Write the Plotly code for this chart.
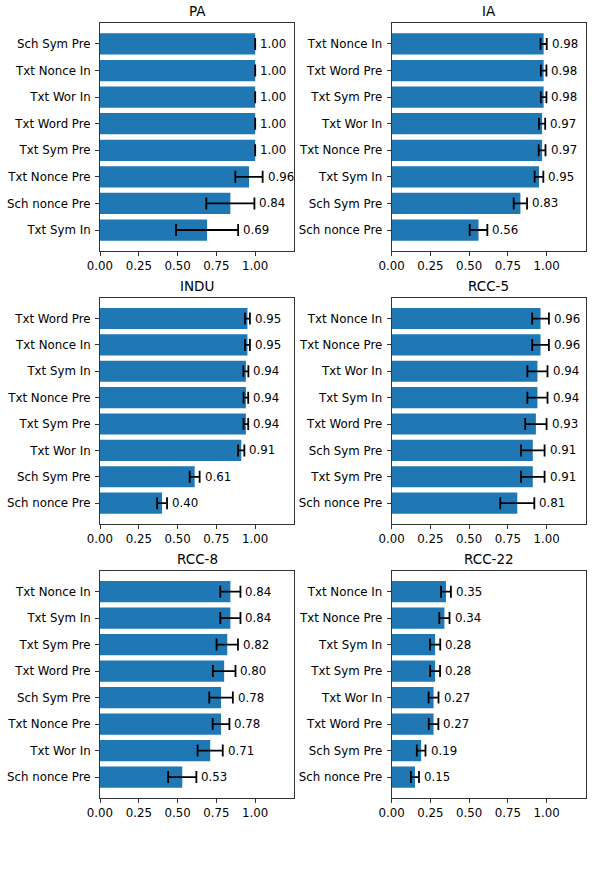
import plotly.graph_objects as go

# ---- data ----
titles = ["PA", "IA", "INDU", "RCC-5", "RCC-8", "RCC-22"]

pa_cats = ["Sch Sym Pre", "Txt Nonce In", "Txt Wor In", "Txt Word Pre", "Txt Sym Pre", "Txt Nonce Pre", "Sch nonce Pre", "Txt Sym In"]
pa_vals = [1.00, 1.00, 1.00, 1.00, 1.00, 0.96, 0.84, 0.69]
pa_errs = [0.0, 0.0, 0.0, 0.0, 0.0, 0.088, 0.155, 0.20]

ia_cats = ["Txt Nonce In", "Txt Word Pre", "Txt Sym Pre", "Txt Wor In", "Txt Nonce Pre", "Txt Sym In", "Sch Sym Pre", "Sch nonce Pre"]
ia_vals = [0.98, 0.98, 0.98, 0.97, 0.97, 0.95, 0.83, 0.56]
ia_errs = [0.02, 0.018, 0.018, 0.02, 0.022, 0.028, 0.043, 0.057]

indu_cats = ["Txt Word Pre", "Txt Nonce In", "Txt Sym In", "Txt Nonce Pre", "Txt Sym Pre", "Txt Wor In", "Sch Sym Pre", "Sch nonce Pre"]
indu_vals = [0.95, 0.95, 0.94, 0.94, 0.94, 0.91, 0.61, 0.40]
indu_errs = [0.016, 0.016, 0.016, 0.015, 0.015, 0.02, 0.032, 0.032]

rcc5_cats = ["Txt Nonce In", "Txt Nonce Pre", "Txt Wor In", "Txt Sym In", "Txt Word Pre", "Sch Sym Pre", "Txt Sym Pre", "Sch nonce Pre"]
rcc5_vals = [0.96, 0.96, 0.94, 0.94, 0.93, 0.91, 0.91, 0.81]
rcc5_errs = [0.054, 0.054, 0.065, 0.065, 0.069, 0.076, 0.076, 0.11]

rcc8_cats = ["Txt Nonce In", "Txt Sym In", "Txt Sym Pre", "Txt Word Pre", "Sch Sym Pre", "Txt Nonce Pre", "Txt Wor In", "Sch nonce Pre"]
rcc8_vals = [0.84, 0.84, 0.82, 0.80, 0.78, 0.78, 0.71, 0.53]
rcc8_errs = [0.065, 0.065, 0.069, 0.073, 0.076, 0.054, 0.081, 0.091]

rcc22_cats = ["Txt Nonce In", "Txt Nonce Pre", "Txt Sym In", "Txt Sym Pre", "Txt Wor In", "Txt Word Pre", "Sch Sym Pre", "Sch nonce Pre"]
rcc22_vals = [0.35, 0.34, 0.28, 0.28, 0.27, 0.27, 0.19, 0.15]
rcc22_errs = [0.032, 0.033, 0.033, 0.032, 0.032, 0.031, 0.028, 0.026]

x_ticks = [0.0, 0.25, 0.5, 0.75, 1.0]
x_ticktext = ["0.00", "0.25", "0.50", "0.75", "1.00"]

panels = [
    (pa_cats, pa_vals, pa_errs),
    (ia_cats, ia_vals, ia_errs),
    (indu_cats, indu_vals, indu_errs),
    (rcc5_cats, rcc5_vals, rcc5_errs),
    (rcc8_cats, rcc8_vals, rcc8_errs),
    (rcc22_cats, rcc22_vals, rcc22_errs),
]

# ---- layout geometry (pixels) ----
W, H = 592, 871
col_px = [(100, 294), (391.7, 585.5)]
row_px = [(23, 251), (297.7, 524), (570.7, 798)]

FONT = "DejaVu Sans"
FS = 11.8
BAR = "#1f77b4"

fig = go.Figure()
annotations = []
layout = {}

for i, (cats, vals, errs) in enumerate(panels):
    r, c = divmod(i, 2)
    n = i + 1
    xa = "x" if n == 1 else f"x{n}"
    ya = "y" if n == 1 else f"y{n}"
    xkey = "xaxis" if n == 1 else f"xaxis{n}"
    ykey = "yaxis" if n == 1 else f"yaxis{n}"
    x0, x1 = col_px[c]
    top, bot = row_px[r]
    fig.add_trace(go.Bar(
        x=vals, y=cats, orientation="h", width=0.8,
        marker=dict(color=BAR, line=dict(width=0)),
        error_x=dict(type="data", array=errs, visible=True, color="black",
                     thickness=1.8, width=6),
        xaxis=xa, yaxis=ya, showlegend=False, hoverinfo="x+y",
    ))
    layout[xkey] = dict(
        domain=[x0 / W, x1 / W], anchor=ya, range=[0, 1.25],
        tickvals=x_ticks, ticktext=x_ticktext, ticks="outside", ticklen=4,
        tickwidth=1, tickcolor="#333", showline=True, linecolor="#333",
        linewidth=1, mirror=True, showgrid=False, zeroline=False,
        automargin=False,
        tickfont=dict(family=FONT, size=FS, color="black"), fixedrange=True,
    )
    nb = len(cats)
    layout[ykey] = dict(
        domain=[1 - bot / H, 1 - top / H], anchor=xa, type="category",
        categoryorder="array", categoryarray=cats,
        range=[nb - 1 + 0.79, -0.79], ticks="outside", ticklen=4,
        tickwidth=1, tickcolor="#333", showline=True, linecolor="#333",
        linewidth=1, mirror=True, showgrid=False, zeroline=False,
        automargin=False, ticklabelstandoff=2,
        tickfont=dict(family=FONT, size=FS, color="black"), fixedrange=True,
    )
    for k, (v, e) in enumerate(zip(vals, errs)):
        annotations.append(dict(
            x=v + e, y=k, xref=xa, yref=ya, text=f"{v:.2f}", showarrow=False,
            xanchor="left", yanchor="middle", xshift=3,
            font=dict(family=FONT, size=FS, color="black"),
        ))
    annotations.append(dict(
        x=(x0 + x1) / 2 / W, y=1 - top / H, xref="paper", yref="paper",
        text=titles[i], showarrow=False, xanchor="center", yanchor="bottom",
        yshift=2, font=dict(family=FONT, size=13.5, color="black"),
    ))

fig.update_layout(
    width=W, height=H, margin=dict(l=0, r=0, t=0, b=0, autoexpand=False),
    paper_bgcolor="white", plot_bgcolor="white",
    annotations=annotations, bargap=0.2,
    font=dict(family=FONT, size=FS, color="black"),
    **layout,
)

fig.write_html("out.html")
